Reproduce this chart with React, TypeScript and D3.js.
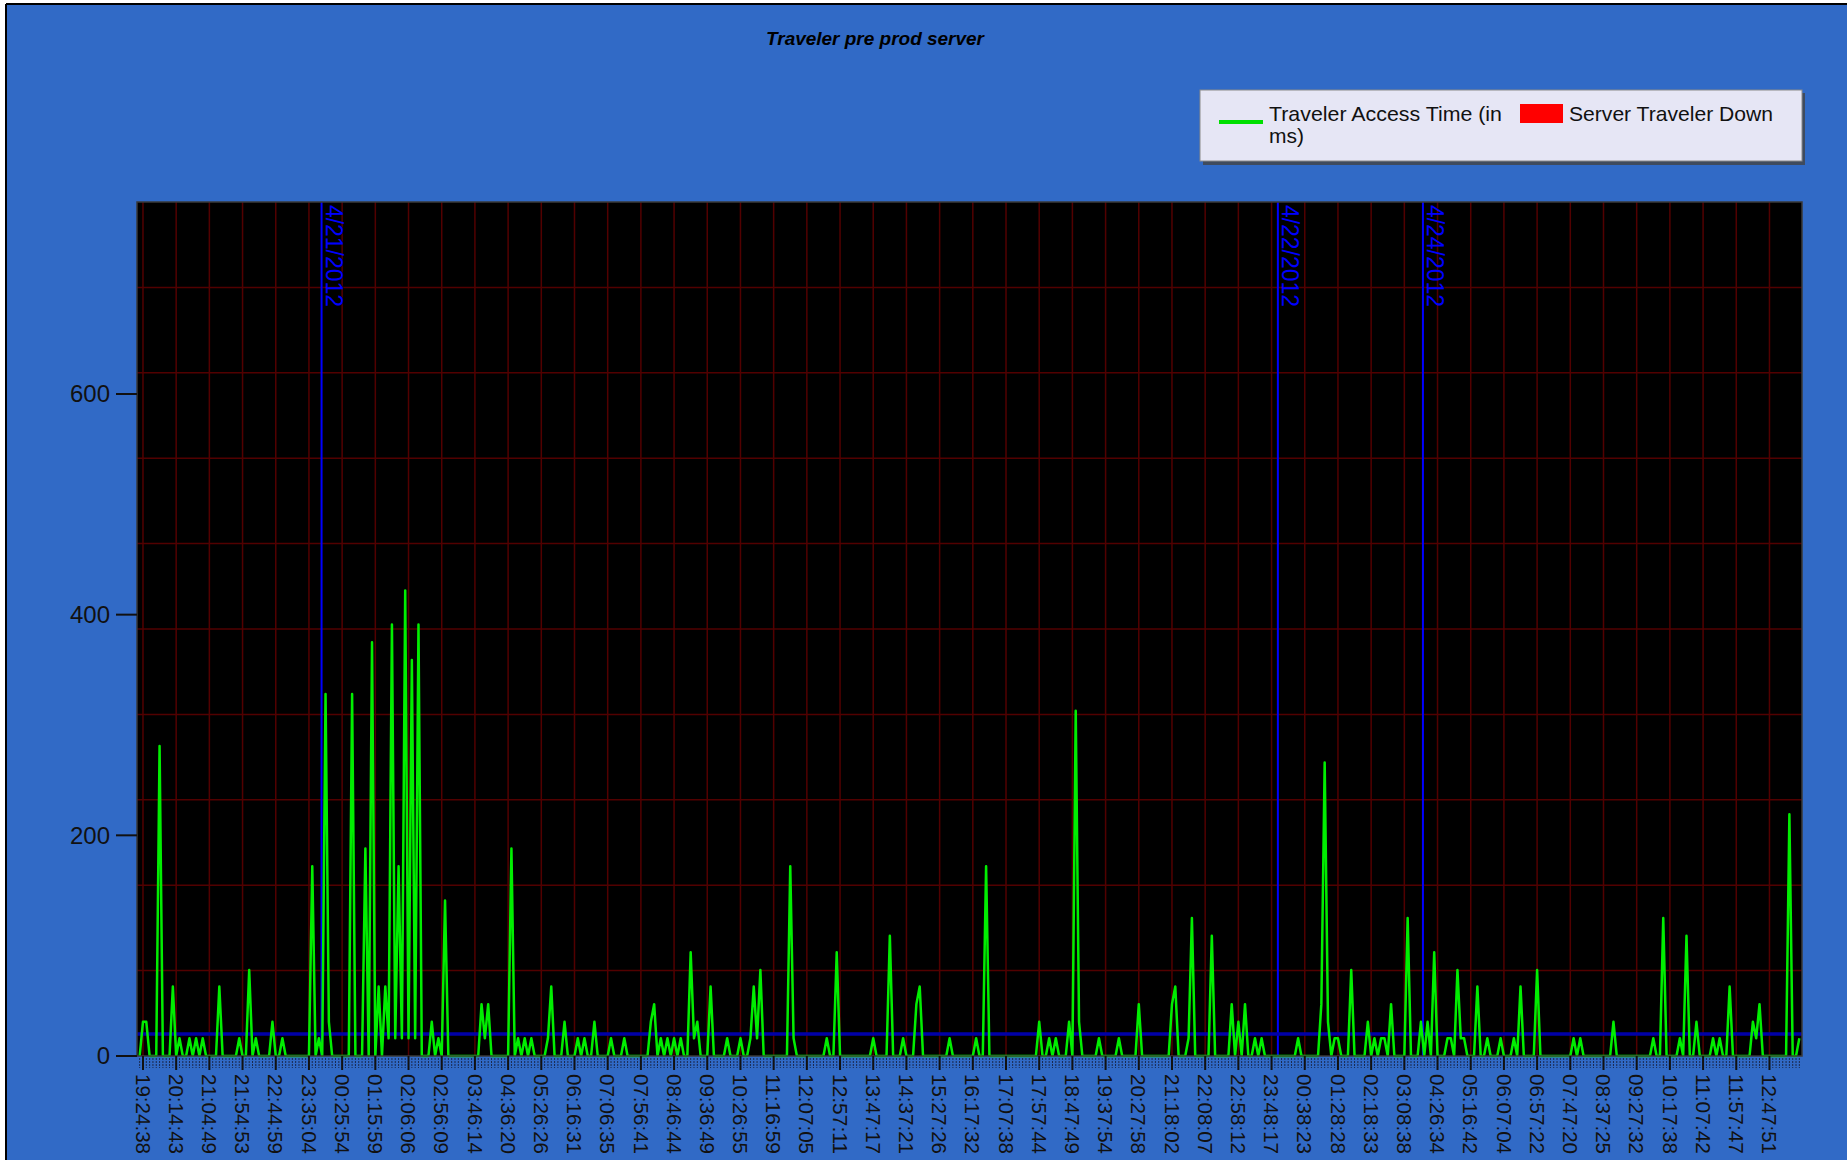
import React from 'react';
import * as d3 from 'd3';

// access time samples (ms), one row per x-axis label interval
const accessTimes: number[] = [
    0, 31, 31, 0, 0, 0, 281, 0, 0, 0,
    63, 0, 16, 0, 0, 16, 0, 16, 0, 16,
    0, 0, 0, 0, 63, 0, 0, 0, 0, 0,
    16, 0, 0, 78, 0, 16, 0, 0, 0, 0,
    31, 0, 0, 16, 0, 0, 0, 0, 0, 0,
    0, 0, 172, 0, 16, 0, 328, 31, 0, 0,
    0, 0, 0, 0, 328, 0, 0, 0, 188, 0,
    375, 0, 63, 0, 63, 16, 391, 16, 172, 16,
    422, 16, 359, 16, 391, 0, 0, 0, 31, 0,
    16, 0, 141, 0, 0, 0, 0, 0, 0, 0,
    0, 0, 0, 47, 16, 47, 0, 0, 0, 0,
    0, 0, 188, 0, 16, 0, 16, 0, 16, 0,
    0, 0, 0, 16, 63, 0, 0, 0, 31, 0,
    0, 0, 16, 0, 16, 0, 0, 31, 0, 0,
    0, 0, 16, 0, 0, 0, 16, 0, 0, 0,
    0, 0, 0, 0, 31, 47, 0, 16, 0, 16,
    0, 16, 0, 16, 0, 0, 94, 16, 31, 0,
    0, 0, 63, 0, 0, 0, 0, 16, 0, 0,
    0, 16, 0, 0, 16, 63, 16, 78, 0, 0,
    0, 0, 0, 0, 0, 0, 172, 16, 0, 0,
    0, 0, 0, 0, 0, 0, 0, 16, 0, 0,
    94, 0, 0, 0, 0, 0, 0, 0, 0, 0,
    0, 16, 0, 0, 0, 0, 109, 0, 0, 0,
    16, 0, 0, 0, 47, 63, 0, 0, 0, 0,
    0, 0, 0, 0, 16, 0, 0, 0, 0, 0,
    0, 0, 16, 0, 0, 172, 0, 0, 0, 0,
    0, 0, 0, 0, 0, 0, 0, 0, 0, 0,
    0, 31, 0, 0, 16, 0, 16, 0, 0, 0,
    31, 0, 313, 31, 0, 0, 0, 0, 0, 16,
    0, 0, 0, 0, 0, 16, 0, 0, 0, 0,
    0, 47, 0, 0, 0, 0, 0, 0, 0, 0,
    0, 47, 63, 0, 0, 0, 16, 125, 0, 0,
    0, 0, 0, 109, 0, 0, 0, 0, 0, 47,
    0, 31, 0, 47, 0, 0, 16, 0, 16, 0,
    0, 0, 0, 0, 0, 0, 0, 0, 0, 16,
    0, 0, 0, 0, 0, 0, 47, 266, 31, 0,
    16, 16, 0, 0, 0, 78, 0, 0, 0, 0,
    31, 0, 16, 0, 16, 16, 0, 47, 0, 0,
    0, 0, 125, 0, 0, 0, 31, 0, 31, 0,
    94, 0, 0, 0, 16, 16, 0, 78, 16, 16,
    0, 0, 0, 63, 0, 0, 16, 0, 0, 0,
    16, 0, 0, 0, 16, 0, 63, 0, 0, 0,
    0, 78, 0, 0, 0, 0, 0, 0, 0, 0,
    0, 0, 16, 0, 16, 0, 0, 0, 0, 0,
    0, 0, 0, 0, 31, 0, 0, 0, 0, 0,
    0, 0, 0, 0, 0, 0, 16, 0, 0, 125,
    0, 0, 0, 0, 16, 0, 109, 0, 0, 31,
    0, 0, 0, 0, 16, 0, 16, 0, 0, 63,
    0, 0, 0, 0, 0, 0, 31, 16, 47, 0,
    0, 0, 0, 0, 0, 0, 0, 219, 0, 0,
    16,
];

// x-axis labels, shown every 10 samples starting at sample 1
const timeLabels = [
    '19:24:38', '20:14:43', '21:04:49', '21:54:53', '22:44:59', '23:35:04', '00:25:54', '01:15:59',
    '02:06:06', '02:56:09', '03:46:14', '04:36:20', '05:26:26', '06:16:31', '07:06:35', '07:56:41',
    '08:46:44', '09:36:49', '10:26:55', '11:16:59', '12:07:05', '12:57:11', '13:47:17', '14:37:21',
    '15:27:26', '16:17:32', '17:07:38', '17:57:44', '18:47:49', '19:37:54', '20:27:58', '21:18:02',
    '22:08:07', '22:58:12', '23:48:17', '00:38:23', '01:28:28', '02:18:33', '03:08:38', '04:26:34',
    '05:16:42', '06:07:04', '06:57:22', '07:47:20', '08:37:25', '09:27:32', '10:17:38', '11:07:42',
    '11:57:47', '12:47:51',
];
const labelStart = 1;
const labelStep = 10;

// day change markers (position in samples)
const dayNames = ['4/21/2012', '4/22/2012', '4/24/2012'];
const dayAt = [54.8, 342.9, 386.6];

const yTicks = [0, 200, 400, 600];
const yMax = 774;
const threshold = 20;

const W = 1847, H = 1160;
const plot = { left: 137, top: 202, right: 1802, bottom: 1056 };
const BG = '#316ac6';

const App: React.FC = () => {
    const n = accessTimes.length;
    const x = d3.scaleLinear().domain([-0.8, n - 0.2]).range([plot.left, plot.right]);
    const y = d3.scaleLinear().domain([0, yMax]).range([plot.bottom, plot.top]);

    const line = d3.line<number>()
        .x((_, i) => x(i))
        .y(d => y(d));

    const labelIdx = timeLabels.map((_, i) => labelStart + i * labelStep);
    const hGrid = d3.range(1, 10).map(k => (yMax * k) / 10);
    const font = '"Liberation Sans", Arial, sans-serif';

    return (
        <svg width={W} height={H} style={{ position: 'absolute', left: 0, top: 0 }}>
            <rect x={0} y={0} width={W} height={H} fill="#ffffff" />
            <rect x={6} y={4} width={W - 6} height={H - 4} fill={BG} />
            <line x1={6} y1={4} x2={W} y2={4} stroke="#000" strokeWidth={2} />
            <line x1={6} y1={4} x2={6} y2={H} stroke="#000" strokeWidth={2} />

            <text x={875} y={45} textAnchor="middle" fontFamily={font} fontWeight="bold"
                fontStyle="italic" fontSize={19} textLength={218} lengthAdjust="spacingAndGlyphs"
                fill="#000">Traveler pre prod server</text>

            {/* legend */}
            <rect x={1203} y={93} width={602} height={72} fill="#444" opacity={0.8} />
            <rect x={1200} y={90} width={602} height={71} fill="#e6e6f5" stroke="#8a8a8a" strokeWidth={1} />
            <line x1={1219} x2={1263} y1={122} y2={122} stroke="#00e000" strokeWidth={4} />
            <text x={1269} y={121} fontFamily={font} fontSize={21} textLength={233} lengthAdjust="spacingAndGlyphs"
                fill="#111">Traveler Access Time (in</text>
            <text x={1269} y={143} fontFamily={font} fontSize={21} fill="#111">ms)</text>
            <rect x={1520} y={104} width={43} height={19} fill="#ff0000" />
            <text x={1569} y={121} fontFamily={font} fontSize={21} textLength={204} lengthAdjust="spacingAndGlyphs"
                fill="#111">Server Traveler Down</text>

            {/* plot area */}
            <rect x={plot.left} y={plot.top} width={plot.right - plot.left} height={plot.bottom - plot.top} fill="#000" />
            {hGrid.map((v, i) => (
                <line key={'h' + i} x1={plot.left} x2={plot.right} y1={y(v)} y2={y(v)} stroke="#520000" strokeWidth={1.5} />
            ))}
            {labelIdx.map((idx, i) => (
                <line key={'v' + i} x1={x(idx)} x2={x(idx)} y1={plot.top} y2={plot.bottom} stroke="#520000" strokeWidth={1.5} />
            ))}

            {dayAt.map((d, i) => (
                <g key={'d' + i}>
                    <line x1={x(d)} x2={x(d)} y1={plot.top} y2={plot.bottom} stroke="#0000ff" strokeWidth={2} />
                    <text transform={`translate(${x(d) + 4},${plot.top + 3}) rotate(90)`} fontFamily={font}
                        fontSize={23} textLength={102} lengthAdjust="spacingAndGlyphs" fill="#0000ff">{dayNames[i]}</text>
                </g>
            ))}

            <line x1={plot.left} x2={plot.right} y1={y(threshold)} y2={y(threshold)} stroke="#0000a8" strokeWidth={3.5} />

            <path d={line(accessTimes) || ''} fill="none" stroke="#00ee00" strokeWidth={2.5} strokeLinejoin="round" />

            <rect x={plot.left} y={plot.top} width={plot.right - plot.left} height={plot.bottom - plot.top}
                fill="none" stroke="#3a3a3a" strokeWidth={1.5} />

            {/* y axis */}
            {yTicks.map(t => (
                <g key={'y' + t}>
                    <line x1={plot.left - 21} x2={plot.left} y1={y(t)} y2={y(t)} stroke="#111" strokeWidth={2} />
                    <text x={plot.left - 27} y={y(t)} dy="0.35em" textAnchor="end" fontFamily={font}
                        fontSize={24} fill="#111">{t}</text>
                </g>
            ))}

            {/* x axis ticks */}
            {accessTimes.map((_, i) => (
                <line key={'m' + i} x1={x(i)} x2={x(i)} y1={plot.bottom + 2} y2={plot.bottom + 12}
                    stroke="#1a2a50" strokeWidth={1} strokeDasharray="2,1" />
            ))}
            {labelIdx.map((idx, i) => (
                <g key={'l' + i}>
                    <line x1={x(idx)} x2={x(idx)} y1={plot.bottom} y2={plot.bottom + 14} stroke="#111" strokeWidth={2} />
                    <text transform={`translate(${x(idx)},${plot.bottom + 18}) rotate(90)`} dy="0.35em"
                        fontFamily={font} fontSize={21} textLength={80} lengthAdjust="spacingAndGlyphs"
                        fill="#111">{timeLabels[i]}</text>
                </g>
            ))}
        </svg>
    );
};

export default App;
